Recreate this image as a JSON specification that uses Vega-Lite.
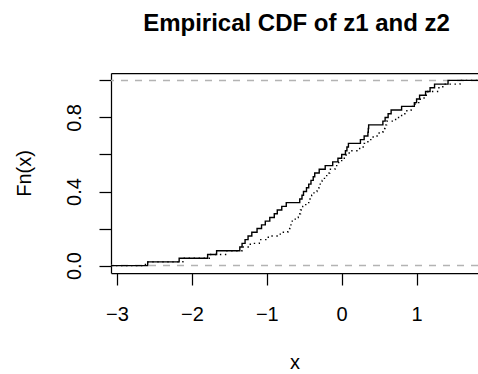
{
  "$schema": "https://vega.github.io/schema/vega-lite/v6.json",
  "width": 367,
  "height": 200,
  "autosize": {"type": "none"},
  "padding": {"left": 111, "top": 73, "right": 0, "bottom": 101},
  "background": "white",
  "title": {"text": "Empirical CDF of z1 and z2", "font": "Liberation Sans", "fontSize": 24, "fontWeight": "bold", "color": "black", "baseline": "alphabetic", "offset": 18, "dx": 2},
  "datasets": {
    "lines01": [{"h": 0}, {"h": 1}],
    "z1": [
      {"x": -3.08, "F": 0}, {"x": -2.59, "F": 0.02}, {"x": -2.17, "F": 0.04}, {"x": -1.79, "F": 0.06}, {"x": -1.67, "F": 0.08},
      {"x": -1.36, "F": 0.10}, {"x": -1.33, "F": 0.12}, {"x": -1.29, "F": 0.14}, {"x": -1.25, "F": 0.16}, {"x": -1.20, "F": 0.18},
      {"x": -1.13, "F": 0.20}, {"x": -1.07, "F": 0.22}, {"x": -1.02, "F": 0.24}, {"x": -0.96, "F": 0.26}, {"x": -0.90, "F": 0.28},
      {"x": -0.86, "F": 0.30}, {"x": -0.80, "F": 0.32}, {"x": -0.74, "F": 0.34}, {"x": -0.56, "F": 0.36}, {"x": -0.53, "F": 0.38},
      {"x": -0.51, "F": 0.40}, {"x": -0.47, "F": 0.42}, {"x": -0.44, "F": 0.44}, {"x": -0.41, "F": 0.46}, {"x": -0.38, "F": 0.48},
      {"x": -0.36, "F": 0.50}, {"x": -0.30, "F": 0.52}, {"x": -0.22, "F": 0.54}, {"x": -0.12, "F": 0.56}, {"x": -0.05, "F": 0.58},
      {"x": 0.00, "F": 0.60}, {"x": 0.05, "F": 0.62}, {"x": 0.07, "F": 0.64}, {"x": 0.09, "F": 0.66}, {"x": 0.25, "F": 0.68},
      {"x": 0.30, "F": 0.70}, {"x": 0.35, "F": 0.72}, {"x": 0.355, "F": 0.74}, {"x": 0.36, "F": 0.76}, {"x": 0.55, "F": 0.78},
      {"x": 0.58, "F": 0.80}, {"x": 0.62, "F": 0.82}, {"x": 0.66, "F": 0.84}, {"x": 0.80, "F": 0.86}, {"x": 0.97, "F": 0.88},
      {"x": 1.00, "F": 0.90}, {"x": 1.04, "F": 0.92}, {"x": 1.12, "F": 0.94}, {"x": 1.18, "F": 0.96}, {"x": 1.24, "F": 0.98},
      {"x": 1.42, "F": 1.00}, {"x": 1.82, "F": 1.00}
    ],
    "z2": [
      {"x": -3.08, "F": 0}, {"x": -2.62, "F": 0.02}, {"x": -2.12, "F": 0.04}, {"x": -1.75, "F": 0.06}, {"x": -1.55, "F": 0.08},
      {"x": -1.33, "F": 0.10}, {"x": -1.22, "F": 0.12}, {"x": -1.10, "F": 0.14}, {"x": -0.98, "F": 0.16}, {"x": -0.82, "F": 0.18},
      {"x": -0.72, "F": 0.20}, {"x": -0.69, "F": 0.22}, {"x": -0.66, "F": 0.24}, {"x": -0.62, "F": 0.26}, {"x": -0.58, "F": 0.28},
      {"x": -0.55, "F": 0.30}, {"x": -0.52, "F": 0.32}, {"x": -0.48, "F": 0.34}, {"x": -0.44, "F": 0.36}, {"x": -0.40, "F": 0.38},
      {"x": -0.37, "F": 0.40}, {"x": -0.33, "F": 0.42}, {"x": -0.30, "F": 0.44}, {"x": -0.26, "F": 0.46}, {"x": -0.23, "F": 0.48},
      {"x": -0.20, "F": 0.50}, {"x": -0.16, "F": 0.52}, {"x": -0.09, "F": 0.54}, {"x": -0.04, "F": 0.56}, {"x": 0.00, "F": 0.58},
      {"x": 0.06, "F": 0.60}, {"x": 0.10, "F": 0.62}, {"x": 0.24, "F": 0.64}, {"x": 0.30, "F": 0.66}, {"x": 0.35, "F": 0.68},
      {"x": 0.42, "F": 0.70}, {"x": 0.50, "F": 0.72}, {"x": 0.55, "F": 0.74}, {"x": 0.58, "F": 0.76}, {"x": 0.60, "F": 0.78},
      {"x": 0.72, "F": 0.80}, {"x": 0.80, "F": 0.82}, {"x": 0.87, "F": 0.84}, {"x": 0.93, "F": 0.86}, {"x": 0.98, "F": 0.88},
      {"x": 1.05, "F": 0.90}, {"x": 1.10, "F": 0.92}, {"x": 1.15, "F": 0.94}, {"x": 1.28, "F": 0.96}, {"x": 1.35, "F": 0.98},
      {"x": 1.58, "F": 1.00}, {"x": 1.82, "F": 1.00}
    ]
  },
  "layer": [
    {
      "data": {"name": "lines01"},
      "mark": {"type": "rule", "color": "#B3B3B3", "strokeDash": [7, 7], "strokeWidth": 1.5},
      "encoding": {
        "y": {"field": "h", "type": "quantitative", "scale": {"domain": [-0.04, 1.04], "nice": false, "zero": false},
          "axis": {"title": "Fn(x)", "values": [0, 0.2, 0.4, 0.6, 0.8, 1], "format": ".1f", "labelExpr": "round(datum.value*10) % 4 == 0 ? datum.label : ''", "labelAngle": -90, "labelAlign": "center", "labelBaseline": "bottom", "labelPadding": 15, "titlePadding": 30}}
      }
    },
    {
      "data": {"name": "z1"},
      "mark": {"type": "line", "interpolate": "step-after", "color": "black", "strokeWidth": 1.4, "clip": true},
      "encoding": {
        "x": {"field": "x", "type": "quantitative", "scale": {"domain": [-3.08, 1.82], "nice": false, "zero": false},
          "axis": {"orient": "bottom", "title": "x", "values": [-3, -2, -1, 0, 1], "format": "d", "labelPadding": 19, "titlePadding": 28}},
        "y": {"field": "F", "type": "quantitative", "scale": {"domain": [-0.04, 1.04], "nice": false, "zero": false},
          "axis": {"title": "Fn(x)", "values": [0, 0.2, 0.4, 0.6, 0.8, 1], "format": ".1f", "labelExpr": "round(datum.value*10) % 4 == 0 ? datum.label : ''", "labelAngle": -90, "labelAlign": "center", "labelBaseline": "bottom", "labelPadding": 15, "titlePadding": 30}}
      }
    },
    {
      "data": {"name": "z2"},
      "mark": {"type": "line", "interpolate": "step-after", "color": "black", "strokeWidth": 1.4, "strokeDash": [1.4, 3.6], "clip": true},
      "encoding": {
        "x": {"field": "x", "type": "quantitative", "scale": {"domain": [-3.08, 1.82], "nice": false, "zero": false},
          "axis": {"orient": "top", "title": null, "labels": false, "ticks": false, "domain": true}},
        "y": {"field": "F", "type": "quantitative", "scale": {"domain": [-0.04, 1.04], "nice": false, "zero": false},
          "axis": {"title": "Fn(x)", "values": [0, 0.2, 0.4, 0.6, 0.8, 1], "format": ".1f", "labelExpr": "round(datum.value*10) % 4 == 0 ? datum.label : ''", "labelAngle": -90, "labelAlign": "center", "labelBaseline": "bottom", "labelPadding": 15, "titlePadding": 30}}
      }
    }
  ],
  "resolve": {"axis": {"x": "independent"}},
  "config": {
    "view": {"stroke": null},
    "axis": {
      "grid": false,
      "domainColor": "black", "domainWidth": 1.25,
      "tickColor": "black", "tickWidth": 1.25, "tickSize": 12,
      "labelColor": "black", "labelFont": "Liberation Sans", "labelFontSize": 20,
      "titleColor": "black", "titleFont": "Liberation Sans", "titleFontSize": 20, "titleFontWeight": "normal",
      "labelOverlap": false, "labelFlush": false
    }
  }
}
